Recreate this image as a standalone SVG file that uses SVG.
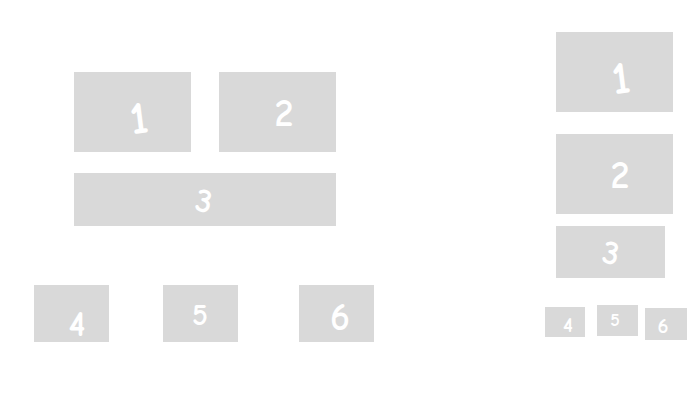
<svg xmlns="http://www.w3.org/2000/svg" width="699" height="410" viewBox="0 0 699 410">
<style>
.b{fill:#d9d9d9}
.d{fill:#ffffff;font-family:"Comic Neue","DejaVu Sans",sans-serif;font-weight:bold;text-anchor:middle;dominant-baseline:central}
</style>
<rect width="699" height="410" fill="#ffffff"/>
<g id="connectors"></g>
<g id="L1"><rect class="b" x="74" y="72" width="117" height="80"/><text class="d" x="139" y="119" font-size="46" transform="rotate(-8 139 119)">1</text></g>
<g id="L2"><rect class="b" x="219" y="72" width="117" height="80"/><text class="d" x="284" y="114" font-size="38">2</text></g>
<g id="L3"><rect class="b" x="74" y="173" width="262" height="53"/><text class="d" x="204" y="201" font-size="34" transform="rotate(10 204 201)">3</text></g>
<g id="L4"><rect class="b" x="34" y="285" width="75" height="57"/><text class="d" x="77" y="324" font-size="36">4</text></g>
<g id="L5"><rect class="b" x="163" y="285" width="75" height="57"/><text class="d" x="200" y="315" font-size="30">5</text></g>
<g id="L6"><rect class="b" x="299" y="285" width="75" height="57"/><text class="d" x="340" y="318" font-size="38">6</text></g>
<g id="R1"><rect class="b" x="556" y="32" width="117" height="80"/><text class="d" x="621" y="79" font-size="46" transform="rotate(-8 621 79)">1</text></g>
<g id="R2"><rect class="b" x="556" y="134" width="117" height="80"/><text class="d" x="620" y="176" font-size="38">2</text></g>
<g id="R3"><rect class="b" x="556" y="226" width="109" height="52"/><text class="d" x="611" y="253" font-size="34" transform="rotate(10 611 253)">3</text></g>
<g id="R4"><rect class="b" x="545" y="307" width="40" height="30"/><text class="d" x="568" y="325" font-size="21">4</text></g>
<g id="R5"><rect class="b" x="597" y="305" width="41" height="31"/><text class="d" x="615" y="320" font-size="18">5</text></g>
<g id="R6"><rect class="b" x="645" y="308" width="42" height="32"/><text class="d" x="663" y="326" font-size="21">6</text></g>
</svg>
